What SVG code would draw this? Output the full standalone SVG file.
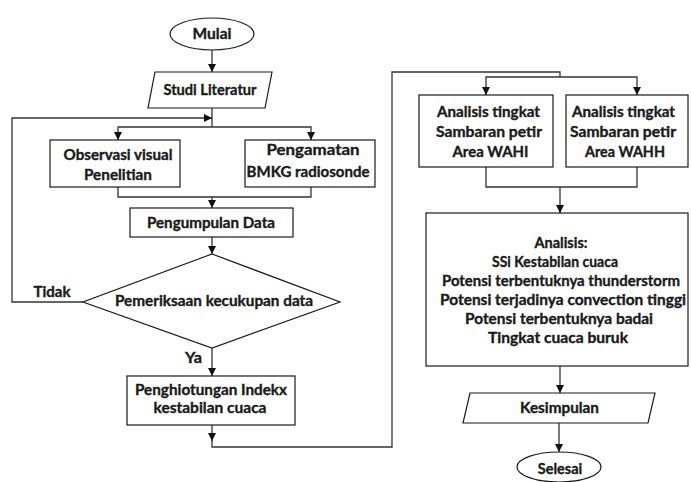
<svg xmlns="http://www.w3.org/2000/svg" width="691" height="482" viewBox="0 0 691 482">
<style>
.s{fill:#fff;stroke:#1a1a1a;stroke-width:1.2}
.c{fill:none;stroke:#333;stroke-width:1.3}
.a{marker-end:url(#ah)}
text{font-family:Lato,"Open Sans","Liberation Sans",sans-serif;font-weight:bold;font-size:14.5px;fill:#1a1a1a;stroke:#1a1a1a;stroke-width:0.35;text-anchor:middle}
</style>
<defs>
<marker id="ah" markerUnits="userSpaceOnUse" markerWidth="8" markerHeight="8" refX="8" refY="4" orient="auto">
<path d="M0,0 L8,4 L0,8 z" fill="#111"/>
</marker>
</defs>
<rect width="691" height="482" fill="#fff"/>
<g id="connectors">
<line class="c a" x1="212" y1="50" x2="212" y2="72"/>
<line class="c" x1="212" y1="108" x2="212" y2="127"/>
<path class="c a" d="M212,127 H118 V140"/>
<path class="c a" d="M212,127 H311 V140"/>
<path class="c" d="M118,187 V197 H311 V187"/>
<line class="c a" x1="212" y1="197" x2="212" y2="208"/>
<line class="c a" x1="212" y1="237" x2="212" y2="254"/>
<path class="c a" d="M83,302 H12 V118 H212"/>
<line class="c a" x1="212" y1="348" x2="212" y2="376"/>
<line class="c a" x1="212" y1="425" x2="212" y2="441"/>
<path class="c" d="M212,440 V447 H392 V72 H560 V77"/>
<path class="c a" d="M560,77 H486 V95"/>
<path class="c a" d="M560,77 H637 V95"/>
<path class="c" d="M486,167 V187 H637 V167"/>
<line class="c a" x1="560" y1="187" x2="560" y2="213"/>
<line class="c a" x1="560" y1="366" x2="560" y2="393"/>
<line class="c a" x1="559" y1="423" x2="559" y2="452"/>
</g>
<g id="mulai">
<ellipse class="s" cx="212" cy="34" rx="42" ry="16"/>
<text x="212" y="39" textLength="39" lengthAdjust="spacingAndGlyphs">Mulai</text>
</g>
<g id="studi">
<polygon class="s" points="155,72 272,72 265,108 148,108"/>
<text x="210" y="95" textLength="93" lengthAdjust="spacingAndGlyphs">Studi Literatur</text>
</g>
<g id="observasi">
<rect class="s" x="50" y="140" width="130" height="47"/>
<text x="118" y="160" textLength="109" lengthAdjust="spacingAndGlyphs">Observasi visual</text>
<text x="118" y="180" textLength="68" lengthAdjust="spacingAndGlyphs">Penelitian</text>
</g>
<g id="pengamatan">
<rect class="s" x="245" y="140" width="130" height="47"/>
<text x="313" y="155" textLength="93" lengthAdjust="spacingAndGlyphs">Pengamatan</text>
<text x="308" y="176.5" textLength="123" lengthAdjust="spacingAndGlyphs">BMKG radiosonde</text>
</g>
<g id="pengumpulan">
<rect class="s" x="130" y="208" width="163" height="29"/>
<text x="211" y="228" textLength="128" lengthAdjust="spacingAndGlyphs">Pengumpulan Data</text>
</g>
<g id="pemeriksaan">
<polygon class="s" points="212,254 340,302 212,348 83,302"/>
<text x="214" y="306" textLength="198" lengthAdjust="spacingAndGlyphs">Pemeriksaan kecukupan data</text>
<text x="52" y="297" textLength="37" lengthAdjust="spacingAndGlyphs">Tidak</text>
<text x="193.5" y="363" textLength="17" lengthAdjust="spacingAndGlyphs">Ya</text>
</g>
<g id="penghitungan">
<rect class="s" x="127" y="376" width="168" height="49"/>
<text x="211" y="395" textLength="152" lengthAdjust="spacingAndGlyphs">Penghiotungan Indekx</text>
<text x="210" y="413" textLength="113" lengthAdjust="spacingAndGlyphs">kestabilan cuaca</text>
</g>
<g id="wahi">
<rect class="s" x="419" y="95" width="134" height="72"/>
<text x="488.5" y="117" textLength="103" lengthAdjust="spacingAndGlyphs">Analisis tingkat</text>
<text x="489" y="137" textLength="106" lengthAdjust="spacingAndGlyphs">Sambaran petir</text>
<text x="490.5" y="157" textLength="76" lengthAdjust="spacingAndGlyphs">Area WAHI</text>
</g>
<g id="wahh">
<rect class="s" x="566" y="95" width="122" height="72"/>
<text x="623.5" y="117" textLength="103" lengthAdjust="spacingAndGlyphs">Analisis tingkat</text>
<text x="623" y="137" textLength="106" lengthAdjust="spacingAndGlyphs">Sambaran petir</text>
<text x="625" y="157" textLength="80" lengthAdjust="spacingAndGlyphs">Area WAHH</text>
</g>
<g id="analisis">
<rect class="s" x="426" y="213" width="262" height="153"/>
<text x="561" y="248">Analisis:</text>
<text x="555" y="267" textLength="126" lengthAdjust="spacingAndGlyphs">SSi Kestabilan cuaca</text>
<text x="561" y="286" textLength="238" lengthAdjust="spacingAndGlyphs">Potensi terbentuknya thunderstorm</text>
<text x="563" y="305" textLength="246" lengthAdjust="spacingAndGlyphs">Potensi terjadinya convection tinggi</text>
<text x="559" y="324" textLength="188" lengthAdjust="spacingAndGlyphs">Potensi terbentuknya badai</text>
<text x="558" y="343" textLength="140" lengthAdjust="spacingAndGlyphs">Tingkat cuaca buruk</text>
</g>
<g id="kesimpulan">
<polygon class="s" points="470,393 655,393 648,423 463,423"/>
<text x="559.5" y="412.5" textLength="79" lengthAdjust="spacingAndGlyphs">Kesimpulan</text>
</g>
<g id="selesai">
<ellipse class="s" cx="559" cy="467" rx="42" ry="15"/>
<text x="560" y="474">Selesai</text>
</g>
</svg>
